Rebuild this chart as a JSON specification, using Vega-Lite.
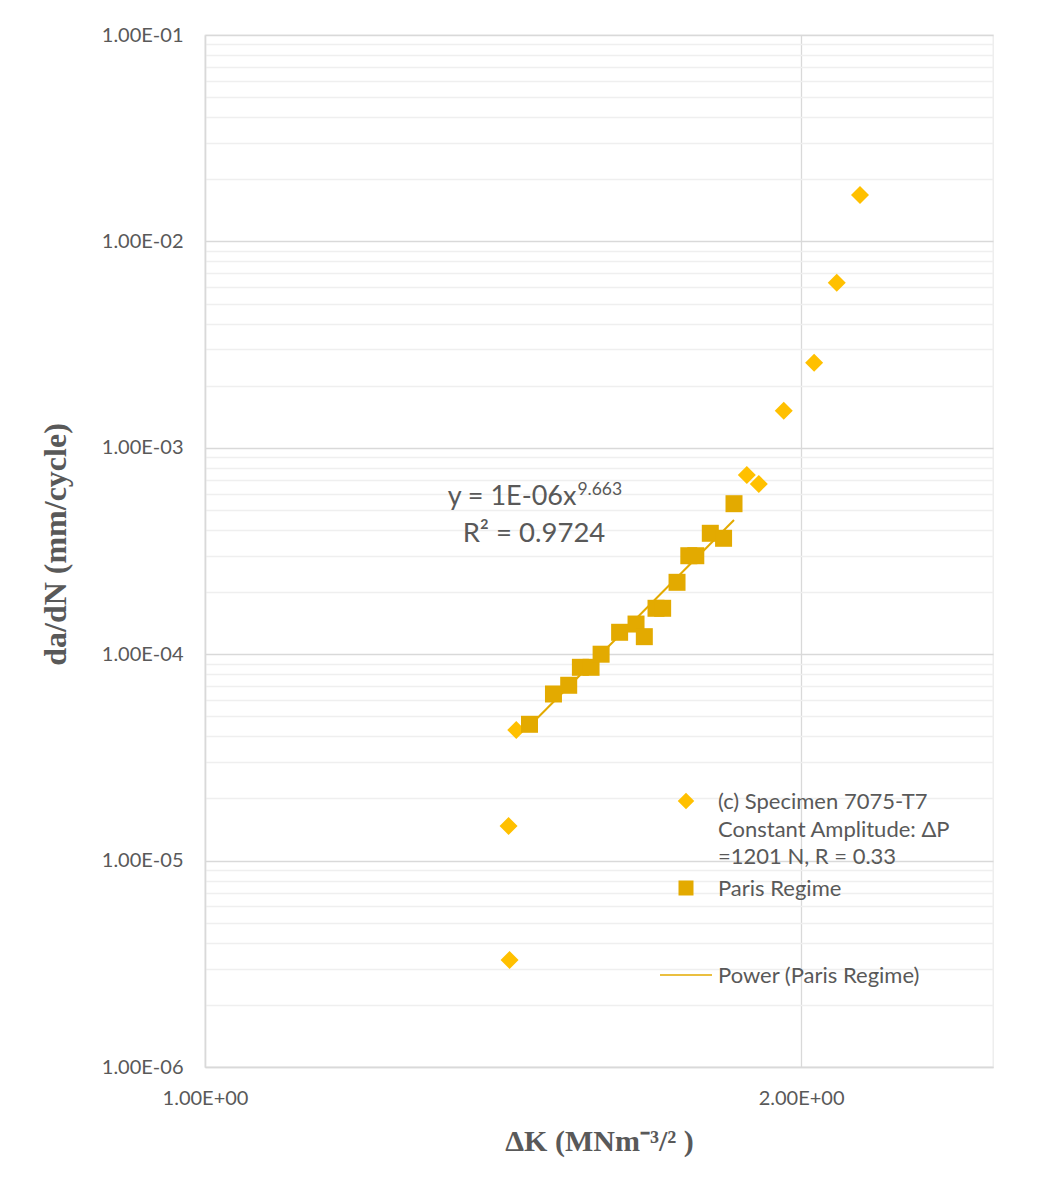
{
  "$schema": "https://vega.github.io/schema/vega-lite/v6.json",
  "width": 788,
  "height": 1032,
  "autosize": {"type": "none"},
  "padding": {"left": 205, "top": 35, "right": 65, "bottom": 119},
  "background": "white",
  "config": {
    "view": {"stroke": "#ececec", "strokeWidth": 1.3},
    "font": "Lato",
    "style": {"guide-label": {"lineHeight": 27.5}}
  },
  "datasets": {
    "diamonds": [
      {"dk": 1.4250, "dadn": 3.30e-6},
      {"dk": 1.4233, "dadn": 1.471e-5},
      {"dk": 1.4361, "dadn": 4.294e-5},
      {"dk": 1.8777, "dadn": 7.383e-4},
      {"dk": 1.9041, "dadn": 6.679e-4},
      {"dk": 1.9600, "dadn": 1.512e-3},
      {"dk": 2.0305, "dadn": 2.584e-3},
      {"dk": 2.0847, "dadn": 6.308e-3},
      {"dk": 2.1418, "dadn": 1.678e-2}
    ],
    "paris": [
      {"dk": 1.4584, "dadn": 4.575e-5},
      {"dk": 1.4996, "dadn": 6.416e-5},
      {"dk": 1.5264, "dadn": 7.07e-5},
      {"dk": 1.5473, "dadn": 8.64e-5},
      {"dk": 1.5666, "dadn": 8.64e-5},
      {"dk": 1.5850, "dadn": 1.0e-4},
      {"dk": 1.6195, "dadn": 1.277e-4},
      {"dk": 1.6507, "dadn": 1.400e-4},
      {"dk": 1.6667, "dadn": 1.216e-4},
      {"dk": 1.6895, "dadn": 1.669e-4},
      {"dk": 1.7026, "dadn": 1.669e-4},
      {"dk": 1.7313, "dadn": 2.230e-4},
      {"dk": 1.7552, "dadn": 3.0e-4},
      {"dk": 1.7695, "dadn": 3.0e-4},
      {"dk": 1.7996, "dadn": 3.853e-4},
      {"dk": 1.8276, "dadn": 3.644e-4},
      {"dk": 1.8499, "dadn": 5.36e-4}
    ],
    "trend": [
      {"dk": 1.4584, "dadn": 4.49e-5},
      {"dk": 1.8499, "dadn": 4.47e-4}
    ]
  },
  "layer": [
    {
      "data": {"name": "diamonds"},
      "mark": {"type": "point", "shape": "diamond", "filled": true, "size": 324, "color": "#FFC000", "opacity": 1},
      "encoding": {
        "x": {
          "field": "dk", "type": "quantitative",
          "scale": {"type": "log", "domain": [1, 2.5], "nice": false},
          "axis": {
            "values": [1, 2],
            "labelExpr": "format(datum.value, '.2f') + 'E+00'",
            "grid": true, "gridColor": "#d9d9d9", "gridWidth": 1.3,
            "ticks": false, "tickSize": 0,
            "domainColor": "#d9d9d9", "domainWidth": 1.5,
            "labelFont": "Lato", "labelFontSize": 20, "labelColor": "#595959",
            "labelPadding": 21, "labelFlush": false, "labelOverlap": false,
            "title": "ΔK (MNm⁻³/² )",
            "titleFont": "Liberation Serif", "titleFontWeight": "bold", "titleFontSize": 30, "titleColor": "#595959",
            "titleX": 394, "titleY": 83, "titleAlign": "center", "titleBaseline": "alphabetic"
          }
        },
        "y": {
          "field": "dadn", "type": "quantitative",
          "scale": {"type": "log", "domain": [1e-6, 0.1], "nice": false},
          "axis": {
            "values": [1e-6, 2e-6, 3e-6, 4e-6, 5e-6, 6e-6, 7e-6, 8e-6, 9e-6,
                       1e-5, 2e-5, 3e-5, 4e-5, 5e-5, 6e-5, 7e-5, 8e-5, 9e-5,
                       1e-4, 2e-4, 3e-4, 4e-4, 5e-4, 6e-4, 7e-4, 8e-4, 9e-4,
                       1e-3, 2e-3, 3e-3, 4e-3, 5e-3, 6e-3, 7e-3, 8e-3, 9e-3,
                       1e-2, 2e-2, 3e-2, 4e-2, 5e-2, 6e-2, 7e-2, 8e-2, 9e-2, 1e-1],
            "labelExpr": "abs(log(datum.value)/LN10 - round(log(datum.value)/LN10)) < 0.001 ? '1.00E-0' + abs(round(log(datum.value)/LN10)) : ''",
            "grid": true,
            "gridColor": {"condition": {"test": "abs(log(datum.value)/LN10 - round(log(datum.value)/LN10)) < 0.001", "value": "#d9d9d9"}, "value": "#efefef"},
            "gridWidth": 1.3,
            "ticks": false, "tickSize": 0,
            "domainColor": "#d9d9d9", "domainWidth": 1.5,
            "labelFont": "Lato", "labelFontSize": 20, "labelColor": "#595959",
            "labelPadding": 22, "labelOverlap": false, "labelFlush": false, "labelBound": false,
            "title": "da/dN (mm/cycle)",
            "titleFont": "Liberation Serif", "titleFontWeight": "bold", "titleFontSize": 32, "titleColor": "#595959",
            "titleX": -150, "titleY": 509, "titleAngle": 270, "titleAlign": "center", "titleBaseline": "middle"
          }
        }
      }
    },
    {
      "data": {"name": "trend"},
      "mark": {"type": "line", "color": "#E3AA00", "strokeWidth": 2},
      "encoding": {
        "x": {"field": "dk", "type": "quantitative"},
        "y": {"field": "dadn", "type": "quantitative"}
      }
    },
    {
      "data": {"name": "paris"},
      "mark": {"type": "point", "shape": "square", "filled": true, "size": 289, "color": "#E3AA00", "opacity": 1},
      "encoding": {
        "x": {"field": "dk", "type": "quantitative"},
        "y": {"field": "dadn", "type": "quantitative"}
      }
    },
    {
      "data": {"values": []},
      "mark": {"type": "point", "filled": true, "opacity": 1, "size": 225},
      "encoding": {
        "x": {"field": "dk", "type": "quantitative"},
        "y": {"field": "dadn", "type": "quantitative"},
        "color": {
          "field": "series", "type": "nominal",
          "scale": {"domain": ["c", "Paris Regime", "Power (Paris Regime)"], "range": ["#FFC000", "#E3AA00", "#E3AA00"]},
          "legend": {
            "orient": "none", "legendX": 470, "legendY": 746, "padding": 0,
            "title": null, "symbolSize": 225, "labelOffset": 21, "rowPadding": 0,
            "labelFont": "Lato", "labelFontSize": 22, "labelColor": "#595959", "labelLimit": 500,
            "labelBaseline": "top",
            "labelExpr": "datum.label == 'c' ? ['(c) Specimen 7075-T7', 'Constant Amplitude: ΔP', '=1201 N, R = 0.33'] : datum.label == 'Paris Regime' ? ['Paris Regime', '', ''] : datum.label"
          }
        },
        "shape": {
          "field": "series", "type": "nominal",
          "scale": {"domain": ["c", "Paris Regime", "Power (Paris Regime)"], "range": ["M-1.1,1.2L0,0.1L1.1,1.2L0,2.3Z", "M-1,0.2L1,0.2L1,2.2L-1,2.2Z", "M-3.47,1.1L3.47,1.1L3.47,1.3L-3.47,1.3Z"]}
        }
      }
    },
    {
      "data": {"values": [{"dk": 1.5402, "dadn": 5.283e-4, "txt": "y = 1E-06x"}]},
      "mark": {"type": "text", "align": "right", "baseline": "alphabetic", "font": "Lato", "fontSize": 27, "color": "#595959"},
      "encoding": {
        "x": {"field": "dk", "type": "quantitative"},
        "y": {"field": "dadn", "type": "quantitative"},
        "text": {"field": "txt"}
      }
    },
    {
      "data": {"values": [{"dk": 1.5420, "dadn": 5.906e-4, "txt": "9.663"}]},
      "mark": {"type": "text", "align": "left", "baseline": "alphabetic", "font": "Lato", "fontSize": 17.5, "color": "#595959"},
      "encoding": {
        "x": {"field": "dk", "type": "quantitative"},
        "y": {"field": "dadn", "type": "quantitative"},
        "text": {"field": "txt"}
      }
    },
    {
      "data": {"values": [{"dk": 1.4660, "dadn": 3.497e-4, "txt": "R² = 0.9724"}]},
      "mark": {"type": "text", "align": "center", "baseline": "alphabetic", "font": "Lato", "fontSize": 27.5, "color": "#595959"},
      "encoding": {
        "x": {"field": "dk", "type": "quantitative"},
        "y": {"field": "dadn", "type": "quantitative"},
        "text": {"field": "txt"}
      }
    }
  ]
}
